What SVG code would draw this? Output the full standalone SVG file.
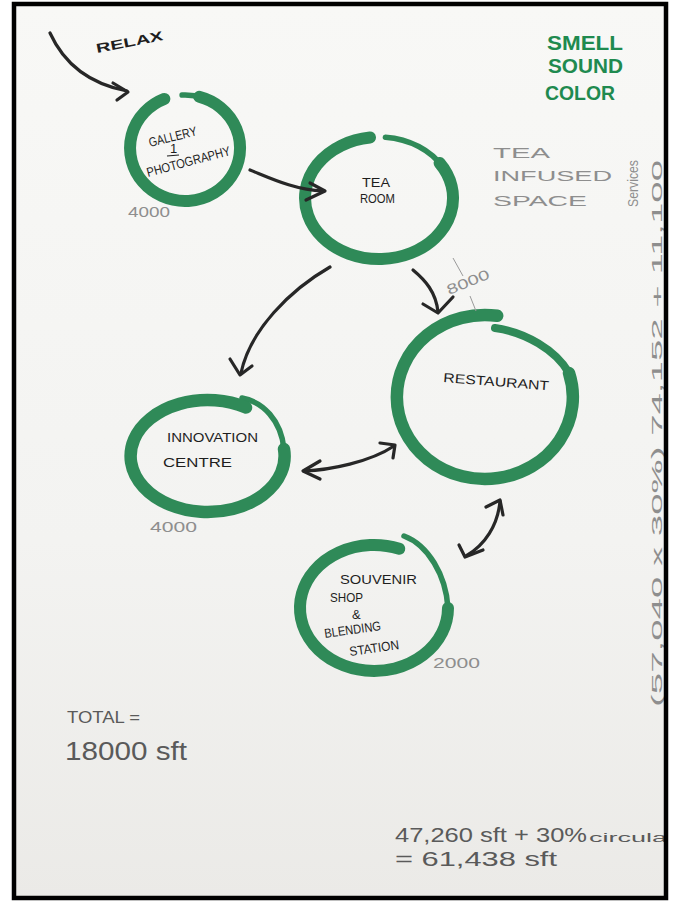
<svg xmlns="http://www.w3.org/2000/svg" width="676" height="903" viewBox="0 0 676 903">
  <defs>
    <linearGradient id="paper" x1="0" y1="0" x2="0" y2="1">
      <stop offset="0" stop-color="#f8f8f6"/>
      <stop offset="0.6" stop-color="#f3f3f1"/>
      <stop offset="1" stop-color="#ebeae7"/>
    </linearGradient>
    <clipPath id="sheet"><rect x="14" y="4" width="652" height="894"/></clipPath>
    <style>
      .brush { fill: none; stroke: #2f8a58; stroke-linecap: round; stroke-linejoin: round; }
      .body { stroke-width: 12; }
      .lead { stroke-width: 5.5; }
      .ink { fill: none; stroke: #272727; stroke-width: 3.2; stroke-linecap: round; stroke-linejoin: round; }
      .lbl { font-family: "Liberation Sans", Arial, sans-serif; fill: #1e1e1e; font-size: 13px; }
      .pencil { font-family: "Liberation Sans", Arial, sans-serif; fill: #8e8e8e; font-size: 14px; }
      .pen { font-family: "Liberation Sans", Arial, sans-serif; fill: #5a5a5a; }
      .green { font-family: "Liberation Sans", Arial, sans-serif; fill: #1f8a4f; font-weight: bold; font-size: 20px; }
    </style>
  </defs>

  <rect x="0" y="0" width="676" height="903" fill="#ffffff"/>
  <g clip-path="url(#sheet)">
    <rect x="14" y="4" width="652" height="894" fill="url(#paper)"/>

    <!-- annotations -->
    <g id="notes">
      <text class="lbl" transform="translate(97,53) rotate(-11)" font-size="21" font-weight="bold" textLength="68" lengthAdjust="spacingAndGlyphs">RELAX</text>
      <text class="green" x="547" y="50" textLength="76" lengthAdjust="spacingAndGlyphs">SMELL</text>
      <text class="green" x="548" y="73" textLength="75" lengthAdjust="spacingAndGlyphs">SOUND</text>
      <text class="green" x="545" y="100" textLength="70" lengthAdjust="spacingAndGlyphs">COLOR</text>
      <text class="pencil" x="493" y="158" font-size="21" fill="#858585" textLength="57" lengthAdjust="spacingAndGlyphs">TEA</text>
      <text class="pencil" x="493" y="181" font-size="21" fill="#858585" textLength="119" lengthAdjust="spacingAndGlyphs">INFUSED</text>
      <text class="pencil" x="493" y="206" font-size="21" fill="#858585" textLength="94" lengthAdjust="spacingAndGlyphs">SPACE</text>
      <text class="pencil" transform="translate(662,707) rotate(-90)" font-size="29" fill="#cacaca" textLength="547" lengthAdjust="spacingAndGlyphs">(57,040 x 30%)  74,152 + 11,100</text>
      <text class="pencil" transform="translate(638,207) rotate(-90)" font-size="11" fill="#c2c2c2" textLength="47" lengthAdjust="spacingAndGlyphs">Services</text>
      <text class="pen" x="67" y="723" font-size="17" textLength="73" lengthAdjust="spacingAndGlyphs">TOTAL =</text>
      <text class="pen" x="65" y="760" font-size="25" textLength="122" lengthAdjust="spacingAndGlyphs">18000 sft</text>
      <text class="pen" x="395" y="842" font-size="20" textLength="192" lengthAdjust="spacingAndGlyphs">47,260 sft + 30%</text>
      <text class="pen" x="589" y="842" font-size="12" textLength="78" lengthAdjust="spacingAndGlyphs">circula</text>
      <text class="pen" x="395" y="866" font-size="20" textLength="162" lengthAdjust="spacingAndGlyphs">= 61,438 sft</text>
    </g>

    <!-- nodes -->
    <g id="gallery">
      <path class="brush lead" d="M182.1,95.1 A55,53 0 0 1 203.8,98.2"/>
      <path class="brush body" d="M199.2,96.8 A55,53 0 1 1 164.4,98.9"/>
      <text class="lbl" transform="translate(150,147) rotate(-14)" font-size="12" textLength="49" lengthAdjust="spacingAndGlyphs">GALLERY</text>
      <text class="lbl" x="170" y="153" font-size="12">1</text>
      <line x1="167" y1="156" x2="179" y2="155" stroke="#1e1e1e" stroke-width="1.2"/>
      <text class="lbl" transform="translate(148,177) rotate(-15)" font-size="11" textLength="86" lengthAdjust="spacingAndGlyphs">PHOTOGRAPHY</text>
      <text class="pencil" x="128" y="217" font-size="14" textLength="42" lengthAdjust="spacingAndGlyphs">4000</text>
    </g>

    <g id="tea-room">
      <path class="brush lead" d="M385.4,137.2 A74,61 0 0 1 443.1,167.5"/>
      <path class="brush body" d="M439.6,163 A74,61 0 1 1 370,137.5"/>
      <text class="lbl" x="362" y="187" font-size="13" textLength="28" lengthAdjust="spacingAndGlyphs">TEA</text>
      <text class="lbl" x="360" y="203" font-size="13" textLength="35" lengthAdjust="spacingAndGlyphs">ROOM</text>
    </g>

    <g id="restaurant">
      <path class="brush" stroke="#246b43" stroke-width="8" d="M495,328 C525,332 556,350 569,373"/>
      <path class="brush" stroke-width="12.5" d="M569,373 A88,82 0 1 1 497.2,315.8"/>
      <text class="lbl" transform="translate(443,382) rotate(4.5)" font-size="15" textLength="106" lengthAdjust="spacingAndGlyphs">RESTAURANT</text>
      <line x1="453" y1="258" x2="463" y2="276" stroke="#9a9a9a" stroke-width="1"/>
      <line x1="470" y1="296" x2="476" y2="311" stroke="#9a9a9a" stroke-width="1"/>
      <text class="pencil" transform="translate(449,295) rotate(-22)" font-size="14" textLength="45" lengthAdjust="spacingAndGlyphs">8000</text>
    </g>

    <g id="innovation-centre">
      <path class="brush lead" stroke-width="6" d="M242,398 C263,402 281,420 284,449"/>
      <path class="brush" stroke-width="12.5" d="M284,449 A77,56 0 1 1 246,407.5"/>
      <text class="lbl" x="167" y="442" font-size="14" textLength="91" lengthAdjust="spacingAndGlyphs">INNOVATION</text>
      <text class="lbl" x="163" y="467" font-size="15" textLength="69" lengthAdjust="spacingAndGlyphs">CENTRE</text>
      <text class="pencil" x="150" y="532" font-size="14" textLength="47" lengthAdjust="spacingAndGlyphs">4000</text>
    </g>

    <g id="souvenir-shop">
      <path class="brush lead" stroke-width="6" d="M404,536 C428,545 446,575 448,608"/>
      <path class="brush body" d="M448,608 A74,63 0 1 1 399.3,548.8"/>
      <text class="lbl" x="340" y="584" font-size="14" textLength="77" lengthAdjust="spacingAndGlyphs">SOUVENIR</text>
      <text class="lbl" x="330" y="602" font-size="13" textLength="33" lengthAdjust="spacingAndGlyphs">SHOP</text>
      <text class="lbl" x="352" y="619" font-size="12">&amp;</text>
      <text class="lbl" transform="translate(325,638) rotate(-8)" font-size="12" textLength="57" lengthAdjust="spacingAndGlyphs">BLENDING</text>
      <text class="lbl" transform="translate(350,656) rotate(-8)" font-size="12" textLength="50" lengthAdjust="spacingAndGlyphs">STATION</text>
      <text class="pencil" x="433" y="668" font-size="15" textLength="47" lengthAdjust="spacingAndGlyphs">2000</text>
    </g>

    <!-- connectors -->
    <g id="connectors">
      <path class="ink" d="M50,33 C60,55 80,82 127,91"/>
      <path class="ink" d="M113,83 L128,92 L117,100"/>

      <path class="ink" d="M250,170 C270,178 295,190 323,191"/>
      <path class="ink" d="M310,183 L325,191 L306,200"/>

      <path class="ink" d="M330,267 C290,290 250,330 241,373"/>
      <path class="ink" d="M230,359 L240,375 L252,366"/>

      <path class="ink" d="M413,270 C425,280 436,292 438,312"/>
      <path class="ink" d="M423,304 L438,313 L453,297"/>

      <path class="ink" d="M304,471 C330,470 370,462 394,446"/>
      <path class="ink" d="M320,461 L303,471 L320,479"/>
      <path class="ink" d="M380,443 L395,445 L393,458"/>

      <path class="ink" d="M500,501 C498,525 485,545 466,556"/>
      <path class="ink" d="M486,507 L500,500 L503,515"/>
      <path class="ink" d="M459,545 L465,557 L483,550"/>
    </g>
  </g>
  <rect x="14" y="4" width="652" height="894" fill="none" stroke="#000" stroke-width="4.5"/>
</svg>
